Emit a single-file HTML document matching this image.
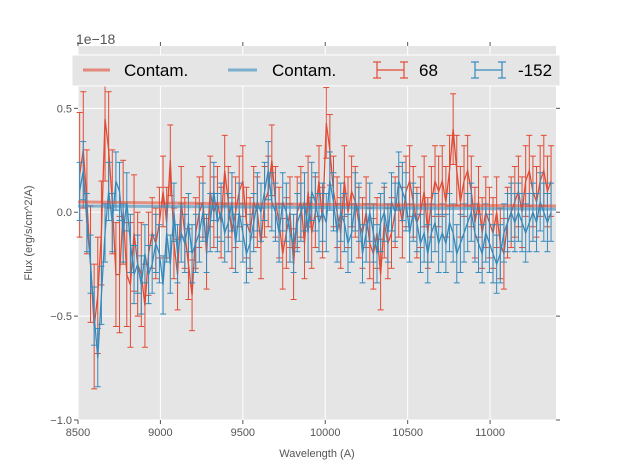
<!DOCTYPE html>
<html><head><meta charset="utf-8"><style>
html,body{margin:0;padding:0;background:#fff;}
svg{display:block;font-family:"Liberation Sans","DejaVu Sans",sans-serif;}
</style></head><body>
<svg id="chart" width="617" height="467" viewBox="0 0 617 467" xmlns="http://www.w3.org/2000/svg">
<rect x="78" y="46" width="478" height="374" fill="#e5e5e5"/>
<g id="grid"></g>
<g id="ticks"></g>
<g id="series"></g>
<text x="76" y="44" font-size="14" fill="#555">1e−18</text>
<text x="317" y="457" font-size="11" fill="#555" text-anchor="middle">Wavelength (A)</text>
<text transform="translate(32,233) rotate(-90)" font-size="11" fill="#555" text-anchor="middle">Flux (erg/s/cm^2/A)</text>
<g>
<rect x="72" y="55" width="488" height="31" fill="#e5e5e5" stroke="#fff" stroke-width="1"/>
<g><line x1="83" y1="70" x2="110" y2="70" stroke="#E24A33" stroke-opacity="0.6" stroke-width="3"/><text x="124" y="76" font-size="17">Contam.</text></g>
<g><line x1="228" y1="70" x2="257" y2="70" stroke="#348ABD" stroke-opacity="0.6" stroke-width="3"/><text x="272" y="76" font-size="17">Contam.</text></g>
<g stroke="#E24A33" stroke-width="1.2"><line x1="377" y1="70" x2="404" y2="70"/><line x1="377" y1="62" x2="377" y2="78"/><line x1="404" y1="62" x2="404" y2="78"/><line x1="373" y1="62" x2="381" y2="62"/><line x1="373" y1="78" x2="381" y2="78"/><line x1="400" y1="62" x2="408" y2="62"/><line x1="400" y1="78" x2="408" y2="78"/><text x="419" y="76" font-size="17" stroke="none" fill="#000">68</text></g>
<g stroke="#348ABD" stroke-width="1.2"><line x1="475" y1="70" x2="502" y2="70"/><line x1="475" y1="62" x2="475" y2="78"/><line x1="502" y1="62" x2="502" y2="78"/><line x1="471" y1="62" x2="479" y2="62"/><line x1="471" y1="78" x2="479" y2="78"/><line x1="498" y1="62" x2="506" y2="62"/><line x1="498" y1="78" x2="506" y2="78"/><text x="518" y="76" font-size="17" stroke="none" fill="#000">-152</text></g>
</g>
</svg>
<script>
const xTicks=[8500,9000,9500,10000,10500,11000];
const yTicks=[-1.0,-0.5,0.0,0.5];
const yTickLabels=["−1.0","−0.5","0.0","0.5"];
const wlStart=8510, wlStep=22;
const red=[0.18,0.3,0.05,-0.25,-0.55,-0.4,-0.1,0.45,0.3,0.05,
-0.3,-0.3,0.0,-0.3,-0.35,-0.1,-0.25,-0.3,-0.45,-0.2,
-0.1,-0.15,-0.05,0.1,-0.05,0.25,-0.15,-0.3,0.05,-0.1,
-0.25,-0.4,-0.1,0.0,0.05,-0.2,0.1,0.0,0.05,-0.05,
0.2,0.05,-0.1,0.0,0.1,0.15,-0.05,-0.1,0.05,0.0,
-0.15,0.05,0.1,0.25,0.05,-0.05,-0.2,-0.1,0.0,-0.25,
0.0,0.05,-0.15,0.1,-0.1,0.0,0.15,-0.05,0.43,0.3,
0.1,0.0,-0.1,0.15,0.0,0.1,0.05,-0.05,-0.1,0.0,
-0.15,-0.2,-0.1,-0.3,-0.05,-0.15,-0.1,0.0,0.05,-0.05,
0.1,0.15,0.05,-0.05,0.0,0.1,-0.1,0.05,0.15,0.1,
0.15,0.05,0.2,0.4,0.2,0.05,0.15,0.2,0.1,-0.05,
0.05,-0.1,0.0,-0.05,-0.1,0.0,-0.15,-0.2,-0.05,0.0,
0.05,0.1,0.0,0.15,0.2,0.1,0.05,0.15,0.2,0.1,0.15];
const blue=[0.1,0.2,-0.05,-0.25,-0.5,-0.7,-0.4,-0.1,0.1,-0.05,
0.15,0.1,-0.1,0.05,-0.15,-0.3,-0.25,-0.35,-0.2,-0.3,
-0.25,-0.15,-0.2,-0.35,-0.1,-0.25,0.0,-0.2,-0.1,-0.15,
-0.05,-0.2,-0.15,-0.1,0.0,-0.15,-0.05,0.1,-0.05,0.0,
-0.1,-0.05,0.05,-0.15,0.0,-0.1,-0.2,-0.15,-0.05,0.05,
0.0,0.1,0.2,0.05,0.0,-0.1,0.05,0.0,-0.1,-0.15,
-0.05,0.0,0.05,-0.1,0.1,0.05,-0.05,0.0,-0.05,0.15,
0.05,-0.1,0.0,-0.05,-0.15,-0.1,0.05,0.0,-0.2,-0.1,
0.0,-0.1,-0.2,-0.05,0.0,-0.1,0.05,0.0,0.15,0.1,
0.05,-0.1,0.0,-0.05,-0.15,-0.1,-0.2,-0.1,-0.05,-0.15,
-0.1,-0.15,-0.05,-0.1,-0.2,-0.15,-0.1,-0.05,0.0,-0.1,
-0.15,-0.2,-0.1,-0.15,-0.2,-0.25,-0.2,-0.1,-0.05,0.0,
-0.05,0.0,-0.05,-0.1,-0.05,0.0,-0.05,0.05,0.0,-0.05,0.0];
const errRed=[0.3,0.28,0.25,0.28,0.3,0.28,0.25,0.3,0.28,0.25,0.25,0.28,0.25,0.25,0.3,0.28,0.25,0.25,0.2,0.2];
const errRedRest=0.17;
const errBlue=0.14;
const contamRed=[0.05,0.04,0.035,0.03];
const contamBlue=[0.03,0.025,0.02,0.015];
const contamWl=[8500,9500,10500,11400];

const X0=78,X1=556,Y0=420,Y1=46,xmin=8500,xmax=11400,ymin=-1.0,ymax=0.8;
const sx=v=>X0+(v-xmin)/(xmax-xmin)*(X1-X0);
const sy=v=>Y0-(v-ymin)/(ymax-ymin)*(Y0-Y1);
const NS="http://www.w3.org/2000/svg";
function mk(tag,attrs,parent){const e=document.createElementNS(NS,tag);for(const k in attrs)e.setAttribute(k,attrs[k]);parent.appendChild(e);return e;}
const grid=document.getElementById('grid'),ticks=document.getElementById('ticks'),series=document.getElementById('series');
xTicks.forEach(t=>{const x=sx(t);
 const g=mk('line',{x1:x,x2:x,y1:Y1,y2:Y0,stroke:'#fff','stroke-width':1},grid);
 
 
 mk('line',{x1:x,x2:x,y1:Y0,y2:Y0+4,stroke:'#555'},ticks);
 mk('line',{x1:x,x2:x,y1:Y1,y2:Y1-4,stroke:'#555'},ticks);
 const l=mk('text',{x:x,y:Y0+16,'font-size':11,fill:'#555','text-anchor':'middle'},ticks);
 l.textContent=t;
 
 
});
yTicks.forEach((t,i)=>{const y=sy(t);
 const g=mk('line',{x1:X0,x2:X1,y1:y,y2:y,stroke:'#fff','stroke-width':1},grid);
 
 
 mk('line',{x1:X0-4,x2:X0,y1:y,y2:y,stroke:'#555'},ticks);
 mk('line',{x1:X1,x2:X1+4,y1:y,y2:y,stroke:'#555'},ticks);
 const l=mk('text',{x:X0-6,y:y+4,'font-size':11,fill:'#555','text-anchor':'end'},ticks);
 l.textContent=yTickLabels[i];
 
 
});
function contam(vals,color,name){
 const pts=vals.map((v,i)=>sx(contamWl[i])+','+sy(v)).join(' ');
 const p=mk('polyline',{points:pts,fill:'none',stroke:color,'stroke-opacity':0.55,'stroke-width':3},series);
 
 
}
function errSeries(vals,errs,color,name){
 const g=mk('g',{stroke:color,'stroke-width':1,fill:'none'},series);
 
 
 vals.forEach((v,i)=>{const x=sx(wlStart+i*wlStep);const e=errs(i);
  const a=sy(v+e),b=sy(v-e);
  mk('line',{x1:x,x2:x,y1:a,y2:b},g);
  mk('line',{x1:x-3,x2:x+3,y1:a,y2:a},g);
  mk('line',{x1:x-3,x2:x+3,y1:b,y2:b},g);
 });
 const pts=vals.map((v,i)=>sx(wlStart+i*wlStep)+','+sy(v)).join(' ');
 const p=mk('polyline',{points:pts,'stroke-width':1.3},g);
 
 
}
errSeries(red,i=>i<errRed.length?errRed[i]:errRedRest,'#E24A33','series-68');
errSeries(blue,i=>errBlue,'#348ABD','series-152');
contam(contamRed,'#E24A33','contam-red-line');
contam(contamBlue,'#348ABD','contam-blue-line');
</script>
</body></html>
